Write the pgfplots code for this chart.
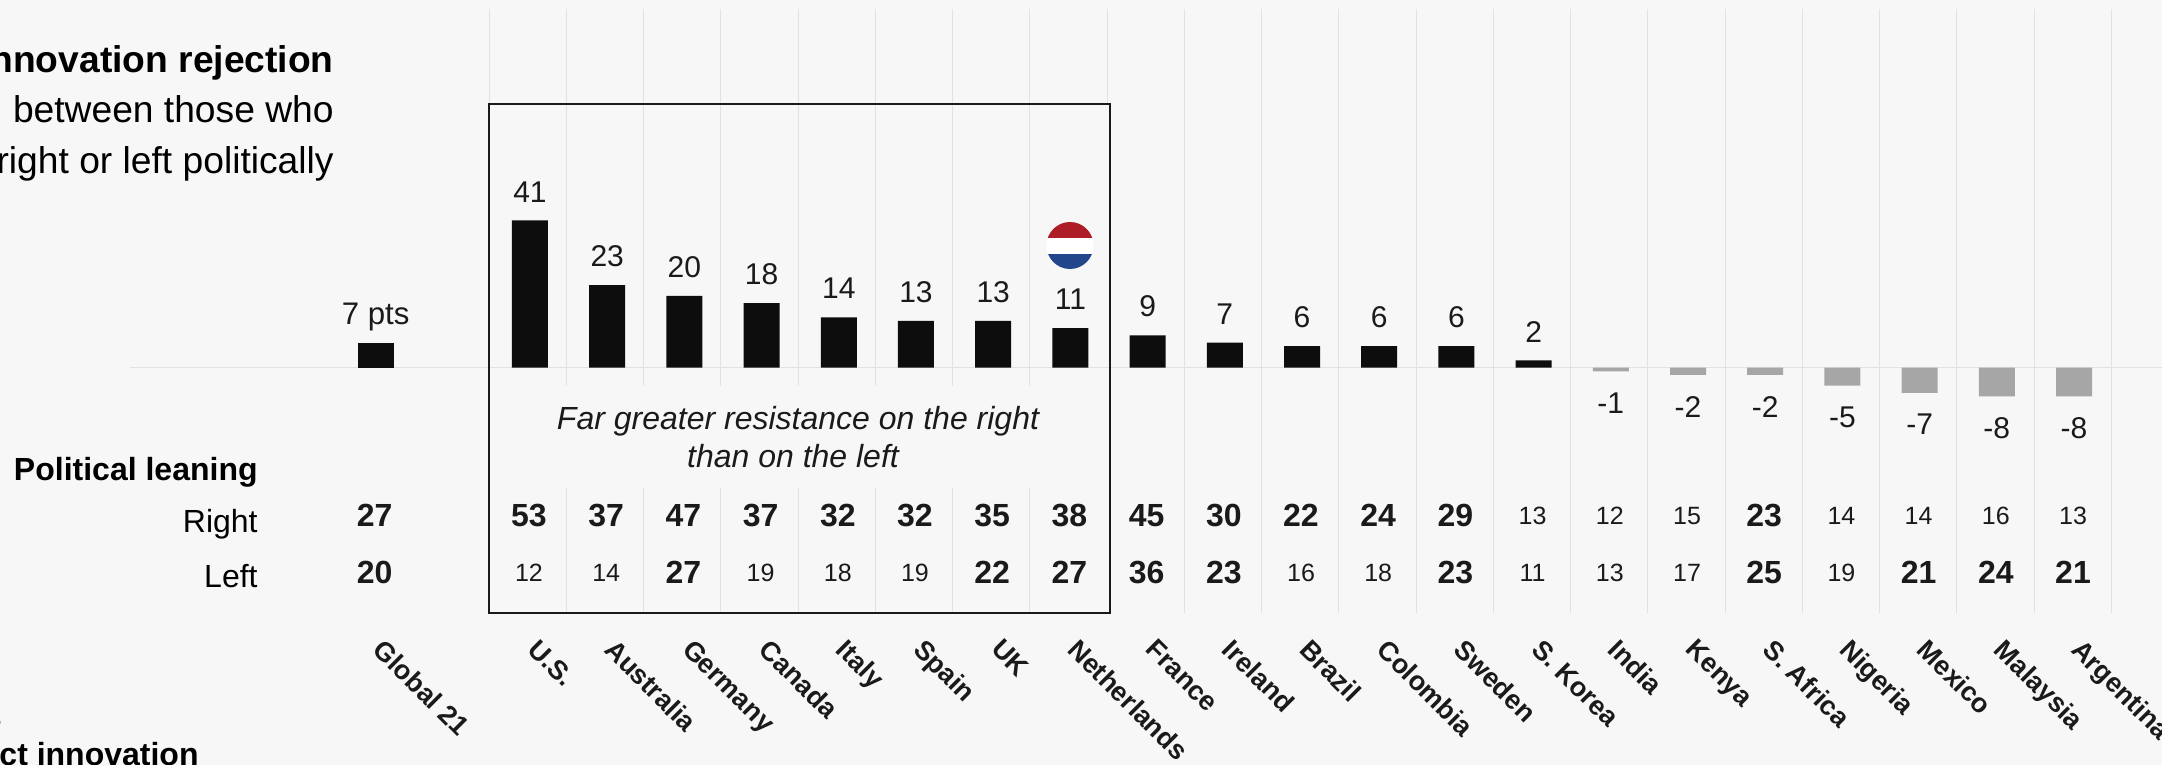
\documentclass[border=0pt]{standalone}
\usepackage{fontspec}
\setmainfont{Liberation Sans}
\usepackage{pgfplots}
\pgfplotsset{compat=1.18}
\definecolor{pagebg}{HTML}{F7F7F7}
\definecolor{gridc}{HTML}{E2E2E2}
\definecolor{barpos}{HTML}{0D0D0D}
\definecolor{barneg}{HTML}{A6A6A6}
\definecolor{textc}{HTML}{1A1A1A}
\definecolor{nlred}{HTML}{AE1C28}
\definecolor{nlblue}{HTML}{21468B}
\pgfplotsset{
    rowval/.style={only marks, mark=none, forget plot, point meta=explicit symbolic,
        nodes near coords, nodes near coords align={center},
        every node near coord/.style={anchor=center, inner sep=0pt, xshift=-0.5pt, text=textc, font=#1}},
    posbar/.style={ybar, bar width=18pt, bar shift=0pt, fill=barpos, draw=none,
        point meta=explicit symbolic, nodes near coords,
        every node near coord/.style={anchor=base, inner sep=0pt, yshift=9.2pt,
            text=textc, font=\fontsize{15}{15}\selectfont}},
    negbar/.style={ybar, bar width=18pt, bar shift=0pt, fill=barneg, draw=none,
        point meta=explicit symbolic, nodes near coords,
        every node near coord/.style={anchor=north, inner sep=0pt, yshift=-10.5pt,
            text=textc, font=\fontsize{15}{15}\selectfont}},
}
\begin{document}
\begin{tikzpicture}[x=0.5pt,y=0.5pt]
    \clip (0,0) rectangle (2162,765);
    \fill[pagebg] (0,0) rectangle (2162,765);
    % grid, pixel coordinates measured from the bottom left
    \foreach \k in {0,...,21}{
        \pgfmathsetmacro{\gx}{489+77.25*\k}
        \ifnum\k<8
            \draw[gridc,line width=0.5pt] (\gx,756) -- (\gx,379);
            \draw[gridc,line width=0.5pt] (\gx,277) -- (\gx,152);
        \else
            \ifnum\k=8
                \draw[gridc,line width=0.5pt] (\gx,756) -- (\gx,661);
            \else
                \draw[gridc,line width=0.5pt] (\gx,756) -- (\gx,152);
            \fi
        \fi
    }
    \draw[gridc,line width=0.7pt] (130,397.5) -- (2162,397.5);

    \begin{axis}[
            at={(0,0)}, anchor=south west,
            scale only axis, width=1081pt, height=382.5pt,
            xmin=-4.865, xmax=23.14,
            ymin=-110.66, ymax=102.4,
            hide axis, clip=false,
        ]
        % difference, Global 21
        \addplot[posbar, every node near coord/.append style={font=\fontsize{15.6}{15.6}\selectfont}]
            coordinates {(0,7)[7 pts]};
        % countries where the right rejects more
        \addplot[posbar] coordinates {
            (2,41)[41] (3,23)[23] (4,20)[20] (5,18)[18] (6,14)[14] (7,13)[13] (8,13)[13]
            (9,11)[11] (10,9)[9] (11,7)[7] (12,6)[6] (13,6)[6] (14,6)[6] (15,2)[2]};
        % countries where the left rejects more
        \addplot[negbar] coordinates {
            (16,-1)[-1] (17,-2)[-2] (18,-2)[-2] (19,-5)[-5] (20,-7)[-7] (21,-8)[-8] (22,-8)[-8]};

        % table rows: Right
        \addplot[rowval=\fontsize{16}{16}\selectfont\bfseries] coordinates {
            (0,-41.2)[27] (2,-41.2)[53] (3,-41.2)[37] (4,-41.2)[47] (5,-41.2)[37]
            (6,-41.2)[32] (7,-41.2)[32] (8,-41.2)[35] (9,-41.2)[38] (10,-41.2)[45]
            (11,-41.2)[30] (12,-41.2)[22] (13,-41.2)[24] (14,-41.2)[29] (18,-41.2)[23]};
        \addplot[rowval=\fontsize{12.5}{12.5}\selectfont] coordinates {
            (15,-41.2)[13] (16,-41.2)[12] (17,-41.2)[15] (19,-41.2)[14]
            (20,-41.2)[14] (21,-41.2)[16] (22,-41.2)[13]};
        % table rows: Left
        \addplot[rowval=\fontsize{16}{16}\selectfont\bfseries] coordinates {
            (0,-57.1)[20] (4,-57.1)[27] (8,-57.1)[22] (9,-57.1)[27] (10,-57.1)[36]
            (11,-57.1)[23] (14,-57.1)[23] (18,-57.1)[25] (20,-57.1)[21]
            (21,-57.1)[24] (22,-57.1)[21]};
        \addplot[rowval=\fontsize{12.5}{12.5}\selectfont] coordinates {
            (2,-57.1)[12] (3,-57.1)[14] (5,-57.1)[19] (6,-57.1)[18] (7,-57.1)[19]
            (12,-57.1)[16] (13,-57.1)[18] (15,-57.1)[11] (16,-57.1)[13] (17,-57.1)[17]
            (19,-57.1)[19]};

        % country names
        \addplot[only marks, mark=none, forget plot, point meta=explicit symbolic,
            nodes near coords,
            every node near coord/.style={anchor=north west, inner sep=0pt,
                xshift=5pt, yshift=3.5pt, rotate=-45,
                text=textc, font=\fontsize{13.5}{13.5}\selectfont\bfseries}]
            coordinates {
            (0,-77)[Global 21] (2,-77)[U.S.] (3,-77)[Australia] (4,-77)[Germany]
            (5,-77)[Canada] (6,-77)[Italy] (7,-77)[Spain] (8,-77)[UK]
            (9,-77)[Netherlands] (10,-77)[France] (11,-77)[Ireland] (12,-77)[Brazil]
            (13,-77)[Colombia] (14,-77)[Sweden] (15,-77)[S. Korea] (16,-77)[India]
            (17,-77)[Kenya] (18,-77)[S. Africa] (19,-77)[Nigeria] (20,-77)[Mexico]
            (21,-77)[Malaysia] (22,-77)[Argentina]};
    \end{axis}

    % highlight box
    \draw[textc,line width=1.2pt] (489,661) rectangle (1110,152);
    \node[anchor=base,inner sep=0pt,font=\fontsize{16}{16}\selectfont\itshape,text=textc] at (798,335)
        {Far greater resistance on the right};
    \node[anchor=base,inner sep=0pt,font=\fontsize{16}{16}\selectfont\itshape,text=textc] at (793,297)
        {than on the left};

    % title, runs off the left edge
    \node[anchor=base east,inner sep=0pt,font=\fontsize{18.6}{18.6}\selectfont\bfseries] at (334,692) {innovation rejection};
    \node[anchor=base east,inner sep=0pt,font=\fontsize{18.6}{18.6}\selectfont] at (334,642) {between those who};
    \node[anchor=base east,inner sep=0pt,font=\fontsize{18.6}{18.6}\selectfont] at (334,591) {right or left politically};

    % row labels
    \node[anchor=base east,inner sep=0pt,font=\fontsize{16}{16}\selectfont\bfseries] at (258,284) {Political leaning};
    \node[anchor=base east,inner sep=0pt,font=\fontsize{16}{16}\selectfont] at (258,232) {Right};
    \node[anchor=base east,inner sep=0pt,font=\fontsize{16}{16}\selectfont] at (258,177) {Left};
    \node[anchor=base east,inner sep=0pt,font=\fontsize{16}{16}\selectfont\color{textc}] at (2,37) {s};
    \node[anchor=base east,inner sep=0pt,font=\fontsize{16}{16}\selectfont\bfseries] at (199,-1) {reject innovation};

    % Netherlands flag
    \begin{scope}
        \clip (1070,519.5) circle (23.5);
        \fill[nlred] (1040,527) rectangle (1100,550);
        \fill[white] (1040,511) rectangle (1100,527);
        \fill[nlblue] (1040,490) rectangle (1100,511);
    \end{scope}
\end{tikzpicture}
\end{document}
